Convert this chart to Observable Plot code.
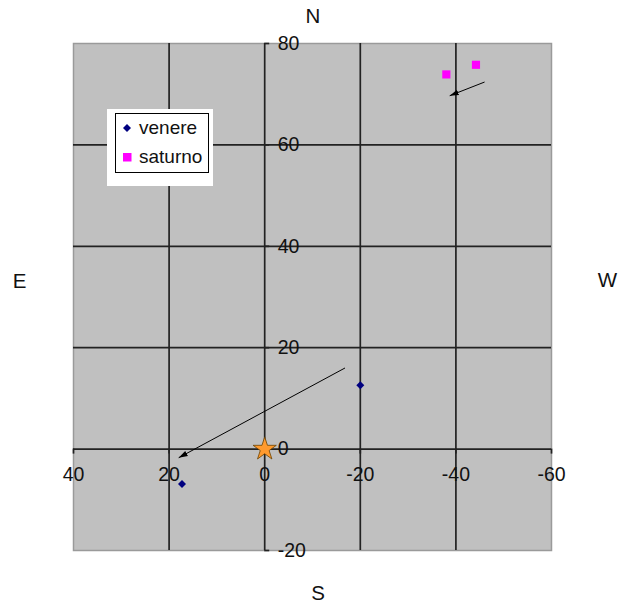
<!DOCTYPE html>
<html>
<head>
<meta charset="utf-8">
<script src="https://cdn.jsdelivr.net/npm/d3@7"></script>
<script src="https://cdn.jsdelivr.net/npm/@observablehq/plot@0.6"></script>
<style>
  html, body { margin: 0; padding: 0; background: white; }
  #wrap { position: relative; width: 629px; height: 604px; font-family: "Liberation Sans", Arial, sans-serif; }
  #legend { position: absolute; left: 107px; top: 109px; width: 106px; height: 77px; background: white; }
  #legend .box { position: absolute; left: 8px; top: 4px; width: 92px; height: 58px; border: 1px solid #000; }
  #legend .row { position: absolute; left: 0; height: 20px; font-size: 19px; color: #111; line-height: 20px; white-space: nowrap; }
  #legend svg { position: absolute; left: 0; top: 0; }
</style>
</head>
<body>
<div id="wrap"></div>
<script>
// Axis ticks and gridlines
const xTicks = [40, 20, 0, -20, -40, -60];
const yTicks = [80, 60, 40, 20, 0, -20];
const gridX = [20, 0, -20, -40];
const gridY = [60, 40, 20, 0];

// Series
const venereX = [-20, 17.3];
const venereY = [12.6, -6.9];
const saturnoX = [-38.0, -44.2];
const saturnoY = [73.9, 75.8];
const sunX = [0];
const sunY = [0];

// Arrows (motion)
const arrowX1 = [-16.8, -46.0];
const arrowY1 = [16.0, 72.4];
const arrowX2 = [18.0, -38.7];
const arrowY2 = [-1.7, 69.7];

// Compass labels
const compass = ["N", "S", "E", "W"];
const seriesNames = ["venere", "saturno"];

const venere = venereX.map((x, i) => ({x, y: venereY[i]}));
const saturno = saturnoX.map((x, i) => ({x, y: saturnoY[i]}));
const sun = sunX.map((x, i) => ({x, y: sunY[i]}));
const arrows = arrowX1.map((x1, i) => ({x1, y1: arrowY1[i], x2: arrowX2[i], y2: arrowY2[i]}));

const ink = "#111";
const gridColor = "#222";
const compassStyle = {text: d => d, fill: ink, fontSize: 20.5, textAnchor: "middle", lineAnchor: "middle"};

const chart = Plot.plot({
  width: 629,
  height: 604,
  marginLeft: 73,
  marginRight: 78,
  marginTop: 43,
  marginBottom: 54,
  x: {domain: [40, -60], axis: null},
  y: {domain: [-20, 80], axis: null},
  style: {fontFamily: "'Liberation Sans', Arial, sans-serif", fontSize: "19.5px", background: "white", overflow: "visible"},
  marks: [
    Plot.frame({fill: "#c0c0c0", stroke: "#9a9a9a", strokeWidth: 1.5}),
    Plot.ruleX(gridX, {stroke: gridColor, strokeWidth: 1.7}),
    Plot.ruleY(gridY, {stroke: gridColor, strokeWidth: 1.7}),
    Plot.ruleX(xTicks, {x: d => d, y1: 0, y2: 0, insetBottom: -5, stroke: gridColor, strokeWidth: 1.7}),
    Plot.ruleY(yTicks, {y: d => d, x1: 0, x2: 0, insetRight: -5, stroke: gridColor, strokeWidth: 1.7}),
    Plot.text(xTicks, {x: d => d, y: 0, text: d => String(d), dy: 26, fill: ink, fontSize: 19.5}),
    Plot.text(yTicks, {x: 0, y: d => d, text: d => String(d), textAnchor: "start", dx: 13, fill: ink, fontSize: 19.5}),
    Plot.link(arrows, {x1: "x1", y1: "y1", x2: "x2", y2: "y2", stroke: "#000", strokeWidth: 1, className: "motion"}),
    Plot.dot(venere, {x: "x", y: "y", symbol: "diamond2", r: 3.6, fill: "#000080", stroke: "none"}),
    Plot.dot(saturno, {x: "x", y: "y", symbol: "square", r: 4.6, fill: "#ff00ff", stroke: "none"}),
    Plot.dot(sun, {x: "x", y: "y", symbol: "star", r: 7.3, fill: "#ff9a2e", stroke: "#6b4300", strokeWidth: 0.8}),
    Plot.text([compass[0]], {...compassStyle, frameAnchor: "top", dx: 0.5, dy: -27}),
    Plot.text([compass[1]], {...compassStyle, frameAnchor: "bottom", dx: 5.5, dy: 43}),
    Plot.text([compass[2]], {...compassStyle, frameAnchor: "left", dx: -54, dy: -16}),
    Plot.text([compass[3]], {...compassStyle, frameAnchor: "right", dx: 56, dy: -16.5})
  ]
});

// Filled arrowheads like the original
const ns = "http://www.w3.org/2000/svg";
const defs = document.createElementNS(ns, "defs");
const marker = document.createElementNS(ns, "marker");
marker.setAttribute("id", "ahead");
marker.setAttribute("viewBox", "0 0 10 10");
marker.setAttribute("refX", "10");
marker.setAttribute("refY", "5");
marker.setAttribute("markerWidth", "9");
marker.setAttribute("markerHeight", "9");
marker.setAttribute("markerUnits", "userSpaceOnUse");
marker.setAttribute("orient", "auto");
const mp = document.createElementNS(ns, "path");
mp.setAttribute("d", "M0,1.8L10,5L0,8.2z");
mp.setAttribute("fill", "#000");
marker.appendChild(mp);
defs.appendChild(marker);
chart.insertBefore(defs, chart.firstChild);
chart.querySelectorAll(".motion path, g.motion path").forEach(p => p.setAttribute("marker-end", "url(#ahead)"));

const wrap = document.getElementById("wrap");
wrap.appendChild(chart);

// Legend
const legend = document.createElement("div");
legend.id = "legend";
legend.innerHTML = `<div class="box"></div>
<svg width="106" height="77">
  <path d="M20,15 L24,19 L20,23 L16,19 Z" fill="#000080"/>
  <rect x="16" y="44" width="8.5" height="8.5" fill="#ff00ff"/>
</svg>
<div class="row" style="left:32px; top:9px;">${seriesNames[0]}</div>
<div class="row" style="left:32px; top:38px;">${seriesNames[1]}</div>`;
wrap.appendChild(legend);
</script>
</body>
</html>
